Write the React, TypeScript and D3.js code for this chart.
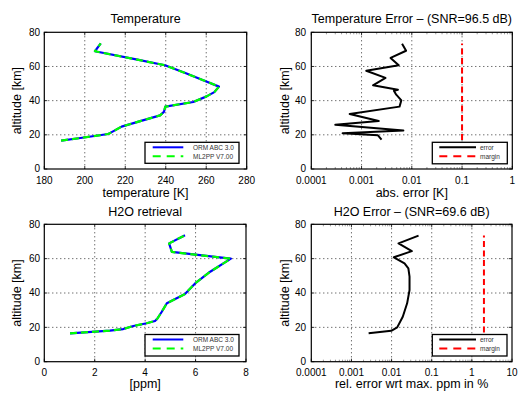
import React from 'react';
import * as d3 from 'd3';

// ---------- data ----------
const ALT_TICKS = [0, 20, 40, 60, 80];
const TEMP_TICKS = [180, 200, 220, 240, 260, 280];
const PPM_TICKS = [0, 2, 4, 6, 8];
const TERR_TICKS = [0.0001, 0.001, 0.01, 0.1, 1];
const TERR_TICK_LABELS = ['0.0001', '0.001', '0.01', '0.1', '1'];
const HERR_TICKS = [0.0001, 0.001, 0.01, 0.1, 1, 10];
const HERR_TICK_LABELS = ['0.0001', '0.001', '0.01', '0.1', '1', '10'];

const TEMP_ALT = [16.6, 18, 20.5, 21.6, 24.8, 28, 31.4, 33.4, 36.5, 39.2, 42.5, 45, 48.2, 52, 56, 60.7, 64, 68.9, 73.5];
const TEMP_ORM = [188.3, 197, 211.6, 213.3, 218.2, 227.4, 237.2, 239.1, 239.8, 253.6, 260.2, 264, 266.3, 258.5, 250, 239.6, 226, 205, 207.9];
const TEMP_ML2PP = [188.3, 197, 211.6, 213.3, 218.2, 227.4, 237.2, 239.1, 239.8, 253.6, 260.2, 264, 266.3, 258.5, 250, 239.6, 226, 205, 207.9];

const TERR_ALT = [17.2, 19.7, 20.9, 22.5, 25.9, 28.1, 32.2, 36.5, 40.2, 43.5, 45.8, 46.4, 49, 53.3, 57.5, 60.7, 65, 69.2, 73.3];
const TERR = [0.0025, 0.00212, 0.00042, 0.0068, 0.0003, 0.0022, 0.00058, 0.0057, 0.0062, 0.0049, 0.0044, 0.0053, 0.00169, 0.003, 0.00124, 0.0055, 0.00378, 0.0077, 0.0064];
const TMARGIN_ALT = [17, 73.5];
const TMARGIN = [0.1, 0.1];

const H2O_ALT = [16.5, 18.1, 19, 20.8, 22.4, 23.7, 25, 29.1, 34, 39.4, 45.6, 52.4, 60, 63.9, 68.9, 73.6];
const H2O_ORM = [1.02, 2.6, 3.13, 3.53, 4.06, 4.39, 4.48, 4.66, 4.86, 5.58, 5.98, 6.58, 7.4, 5.06, 4.95, 5.58];
const H2O_ML2PP = [1.02, 2.6, 3.13, 3.53, 4.06, 4.39, 4.48, 4.66, 4.86, 5.58, 5.98, 6.58, 7.4, 5.06, 4.95, 5.58];

const HERR_ALT = [16.5, 18, 20, 26.2, 34, 41.7, 49.5, 54.4, 57.3, 60.8, 64.4, 68.9, 73.4];
const HERR = [0.00268, 0.0098, 0.0138, 0.019, 0.0244, 0.028, 0.028, 0.0262, 0.021, 0.0114, 0.032, 0.0149, 0.047];
const HMARGIN_ALT = [17, 73.5];
const HMARGIN = [2, 2];

const LEGEND_PROFILE = ['ORM ABC 3.0', 'ML2PP V7.00'];
const LEGEND_ERROR = ['error', 'margin'];

// ---------- drawing ----------
const FONT = '"Liberation Sans", Arial, Helvetica, sans-serif';

type Series = { xs: number[]; ys: number[]; color: string; dash?: string; width: number };

type PanelProps = {
  left: number; right: number; top: number; bottom: number;
  xDomain: [number, number]; log: boolean;
  xTicks: number[]; xTickLabels: string[];
  title: string; xlabel: string; ylabelX: number;
  series: Series[];
  legend: { label: string; color: string; dash?: string; legendDash?: string }[];
  legendBox: { x0: number; x1: number; y0: number; y1: number; lineX0: number; lineX1: number; textX: number };
  titleY: number; tickLabelY: number; xlabelY: number; yTickRight: number;
};

function Panel(p: PanelProps) {
  const x = p.log
    ? d3.scaleLog().domain(p.xDomain).range([p.left, p.right])
    : d3.scaleLinear().domain(p.xDomain).range([p.left, p.right]);
  const y = d3.scaleLinear().domain([0, 80]).range([p.bottom, p.top]);
  const line = d3.line<[number, number]>().x(d => x(d[0])).y(d => y(d[1]));
  const minor: number[] = [];
  if (p.log) {
    for (let i = 0; i < p.xTicks.length - 1; i++) {
      for (let k = 2; k <= 9; k++) minor.push(p.xTicks[i] * k);
    }
  }
  const cx = (p.left + p.right) / 2;
  const cy = (p.top + p.bottom) / 2;
  const lb = p.legendBox;
  const rowY = [lb.y0 + 5, lb.y0 + 14];
  return (
    <g>
      {p.xTicks.slice(1, -1).map((t, i) => (
        <line key={'gx' + i} x1={x(t)} x2={x(t)} y1={p.top} y2={p.bottom} stroke="#000" strokeWidth={0.8} strokeDasharray="1,3" />
      ))}
      {ALT_TICKS.slice(1, -1).map((t, i) => (
        <line key={'gy' + i} x1={p.left} x2={p.right} y1={y(t)} y2={y(t)} stroke="#000" strokeWidth={0.8} strokeDasharray="1,3" />
      ))}
      {p.xTicks.map((t, i) => (
        <g key={'tx' + i}>
          <line x1={x(t)} x2={x(t)} y1={p.bottom} y2={p.bottom - 3} stroke="#000" strokeWidth={0.8} />
          <line x1={x(t)} x2={x(t)} y1={p.top} y2={p.top + 3} stroke="#000" strokeWidth={0.8} />
        </g>
      ))}
      {minor.map((t, i) => (
        <g key={'mx' + i}>
          <line x1={x(t)} x2={x(t)} y1={p.bottom} y2={p.bottom - 2} stroke="#555" strokeWidth={0.6} />
          <line x1={x(t)} x2={x(t)} y1={p.top} y2={p.top + 2} stroke="#555" strokeWidth={0.6} />
        </g>
      ))}
      {ALT_TICKS.map((t, i) => (
        <g key={'ty' + i}>
          <line x1={p.left} x2={p.left + 3} y1={y(t)} y2={y(t)} stroke="#000" strokeWidth={0.8} />
          <line x1={p.right} x2={p.right - 3} y1={y(t)} y2={y(t)} stroke="#000" strokeWidth={0.8} />
        </g>
      ))}
      {p.series.map((s, i) => (
        <path key={'s' + i} d={line(s.xs.map((v, j) => [v, s.ys[j]]) as [number, number][]) || ''}
          fill="none" stroke={s.color} strokeWidth={s.width} strokeDasharray={s.dash} strokeLinejoin="round" />
      ))}
      <rect x={p.left} y={p.top} width={p.right - p.left} height={p.bottom - p.top} fill="none" stroke="#000" strokeWidth={1.2} />
      {p.xTicks.map((t, i) => (
        <text key={'lx' + i} x={x(t)} y={p.tickLabelY} textAnchor="middle" fontSize={10} fontFamily={FONT}>{p.xTickLabels[i]}</text>
      ))}
      {ALT_TICKS.map((t, i) => (
        <text key={'ly' + i} x={p.yTickRight} y={y(t) + 3.3} textAnchor="end" fontSize={10} fontFamily={FONT}>{t}</text>
      ))}
      <text x={cx} y={p.titleY} textAnchor="middle" fontSize={12.5} fontFamily={FONT}>{p.title}</text>
      <text x={cx} y={p.xlabelY} textAnchor="middle" fontSize={12.5} fontFamily={FONT}>{p.xlabel}</text>
      <text transform={`translate(${p.ylabelX},${cy}) rotate(-90)`} textAnchor="middle" fontSize={12.5} fontFamily={FONT}>altitude [km]</text>
      <rect x={lb.x0} y={lb.y0} width={lb.x1 - lb.x0} height={lb.y1 - lb.y0} fill="#fff" stroke="#000" strokeWidth={1.3} />
      {p.legend.map((e, i) => (
        <g key={'lg' + i}>
          <line x1={lb.lineX0} x2={lb.lineX1} y1={rowY[i]} y2={rowY[i]} stroke={e.color} strokeWidth={2} strokeDasharray={e.legendDash} />
          <text x={lb.textX} y={rowY[i] + 2.2} fontSize={6.5} fontFamily={FONT} fill="#333">{e.label}</text>
        </g>
      ))}
    </g>
  );
}

export default function App() {
  const TOP = { top: 32.3, bottom: 169, titleY: 22.7, tickLabelY: 184, xlabelY: 196.5 };
  const BOT = { top: 224.3, bottom: 361.7, titleY: 215.5, tickLabelY: 376, xlabelY: 387.5 };
  return (
    <svg width={518} height={394} style={{ position: 'absolute', left: 0, top: 0, background: '#fff' }}>
      <rect x={0} y={0} width={518} height={394} fill="#fff" />
      <Panel left={44.3} right={246.7} {...TOP} xDomain={[180, 280]} log={false}
        xTicks={TEMP_TICKS} xTickLabels={TEMP_TICKS.map(String)}
        title="Temperature" xlabel="temperature [K]" ylabelX={21} yTickRight={40}
        series={[
          { xs: TEMP_ORM, ys: TEMP_ALT, color: '#0000ff', width: 2.2 },
          { xs: TEMP_ML2PP, ys: TEMP_ALT, color: '#00ff00', width: 2.2, dash: '7,4' },
        ]}
        legend={[
          { label: LEGEND_PROFILE[0], color: '#0000ff' },
          { label: LEGEND_PROFILE[1], color: '#00ff00', legendDash: '8,6' },
        ]}
        legendBox={{ x0: 145, x1: 239, y0: 142.3, y1: 163.3, lineX0: 152.7, lineX1: 183.3, textX: 193 }}
      />
      <Panel left={311.3} right={512.3} {...TOP} xDomain={[0.0001, 1]} log={true}
        xTicks={TERR_TICKS} xTickLabels={TERR_TICK_LABELS}
        title="Temperature Error – (SNR=96.5 dB)" xlabel="abs. error [K]" ylabelX={288.5} yTickRight={306}
        series={[
          { xs: TERR, ys: TERR_ALT, color: '#000', width: 2 },
          { xs: TMARGIN, ys: TMARGIN_ALT, color: '#ff0000', width: 2, dash: '6,3.5' },
        ]}
        legend={[
          { label: LEGEND_ERROR[0], color: '#000' },
          { label: LEGEND_ERROR[1], color: '#ff0000', legendDash: '8,6' },
        ]}
        legendBox={{ x0: 432.3, x1: 507.3, y0: 142.3, y1: 163.8, lineX0: 439.3, lineX1: 476, textX: 480 }}
      />
      <Panel left={44.3} right={246} {...BOT} xDomain={[0, 8]} log={false}
        xTicks={PPM_TICKS} xTickLabels={PPM_TICKS.map(String)}
        title="H2O retrieval" xlabel="[ppm]" ylabelX={21} yTickRight={40}
        series={[
          { xs: H2O_ORM, ys: H2O_ALT, color: '#0000ff', width: 2.2 },
          { xs: H2O_ML2PP, ys: H2O_ALT, color: '#00ff00', width: 2.2, dash: '7,4' },
        ]}
        legend={[
          { label: LEGEND_PROFILE[0], color: '#0000ff' },
          { label: LEGEND_PROFILE[1], color: '#00ff00', legendDash: '8,6' },
        ]}
        legendBox={{ x0: 145, x1: 239, y0: 334.5, y1: 356, lineX0: 152.7, lineX1: 183.3, textX: 193 }}
      />
      <Panel left={311.3} right={512} {...BOT} xDomain={[0.0001, 10]} log={true}
        xTicks={HERR_TICKS} xTickLabels={HERR_TICK_LABELS}
        title="H2O Error – (SNR=69.6 dB)" xlabel="rel. error wrt max. ppm in %" ylabelX={288.5} yTickRight={306}
        series={[
          { xs: HERR, ys: HERR_ALT, color: '#000', width: 2 },
          { xs: HMARGIN, ys: HMARGIN_ALT, color: '#ff0000', width: 2, dash: '6,3.5' },
        ]}
        legend={[
          { label: LEGEND_ERROR[0], color: '#000' },
          { label: LEGEND_ERROR[1], color: '#ff0000', legendDash: '8,6' },
        ]}
        legendBox={{ x0: 432.3, x1: 507, y0: 334.5, y1: 356, lineX0: 439.3, lineX1: 476, textX: 480 }}
      />
    </svg>
  );
}
